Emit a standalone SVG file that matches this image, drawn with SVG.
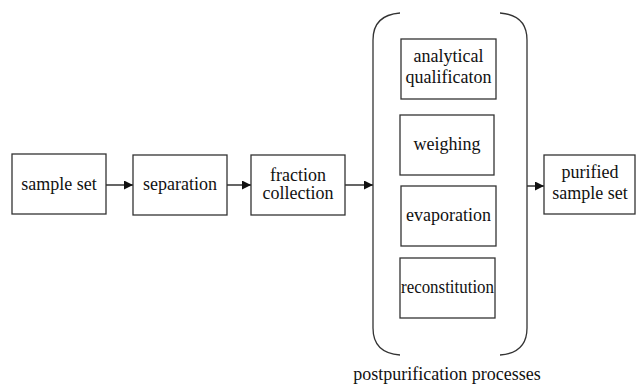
<svg xmlns="http://www.w3.org/2000/svg" width="636" height="386" viewBox="0 0 636 386">
  <style>
    .box { fill: #fff; stroke: #333; stroke-width: 1.3; }
    .lbl { font-family: 'Liberation Serif', 'Times New Roman', Times, serif; font-size: 18px; fill: #111; text-anchor: middle; }
    .edge { stroke: #111; stroke-width: 1.3; fill: none; marker-end: url(#arrow); }
    .brace { stroke: #333; stroke-width: 1.3; fill: none; }
  </style>
  <defs>
    <marker id="arrow" viewBox="0 0 10 10" refX="10" refY="5" markerWidth="9" markerHeight="9" markerUnits="userSpaceOnUse" orient="auto">
      <path d="M0,0 L10,5 L0,10 z" fill="#111"/>
    </marker>
  </defs>
  <rect width="636" height="386" fill="#fff"/>

  <g id="connectors">
    <line class="edge" x1="106" y1="185" x2="133" y2="185"/>
    <line class="edge" x1="227" y1="185" x2="251" y2="185"/>
    <line class="edge" x1="345" y1="185" x2="373" y2="185"/>
    <line class="edge" x1="527" y1="186" x2="544" y2="186"/>
  </g>

  <g id="sample-set">
    <rect class="box" x="12" y="154" width="94" height="60"/>
    <text class="lbl" x="59" y="190">sample set</text>
  </g>
  <g id="separation">
    <rect class="box" x="133" y="155" width="94" height="60"/>
    <text class="lbl" x="180" y="190">separation</text>
  </g>
  <g id="fraction-collection">
    <rect class="box" x="251" y="155" width="94" height="60"/>
    <text class="lbl" x="298" y="181">fraction</text>
    <text class="lbl" x="298" y="199">collection</text>
  </g>

  <g id="postpurification">
    <path class="brace" d="M400,13 Q373,15 373,40 L373,328 Q373,353 400,355"/>
    <path class="brace" d="M500,13 Q527,15 527,40 L527,328 Q527,353 500,355"/>
    <text class="lbl" x="447" y="380">postpurification processes</text>
  </g>
  <g id="analytical-qualification">
    <rect class="box" x="401" y="39" width="95" height="60"/>
    <text class="lbl" x="448.5" y="62">analytical</text>
    <text class="lbl" x="448.5" y="83">qualificaton</text>
  </g>
  <g id="weighing">
    <rect class="box" x="400" y="115" width="94" height="60"/>
    <text class="lbl" x="447" y="150">weighing</text>
  </g>
  <g id="evaporation">
    <rect class="box" x="401" y="186" width="95" height="60"/>
    <text class="lbl" x="448.5" y="221">evaporation</text>
  </g>
  <g id="reconstitution">
    <rect class="box" x="400" y="258" width="95" height="60"/>
    <text class="lbl" x="447.5" y="293" textLength="93" lengthAdjust="spacingAndGlyphs">reconstitution</text>
  </g>

  <g id="purified-sample-set">
    <rect class="box" x="544" y="155" width="91" height="59"/>
    <text class="lbl" x="590" y="178">purified</text>
    <text class="lbl" x="590" y="199">sample set</text>
  </g>
</svg>
